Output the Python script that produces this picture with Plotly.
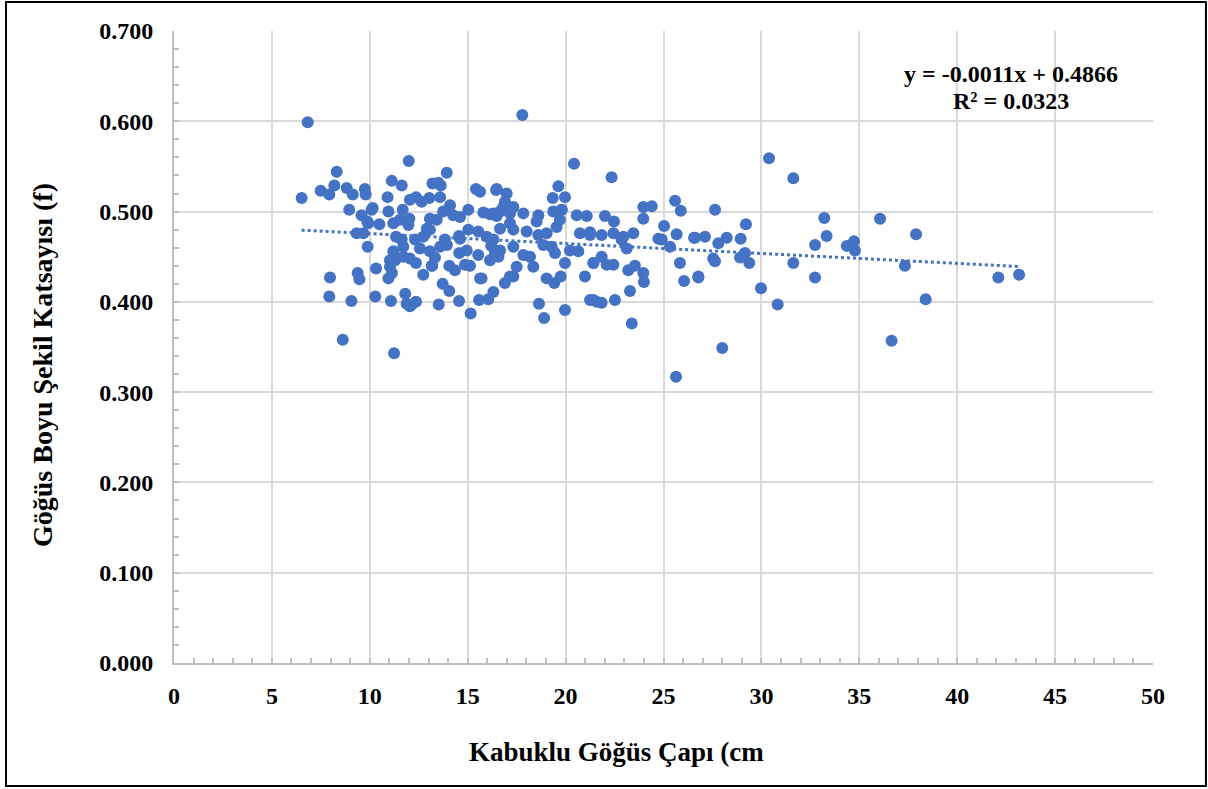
import plotly.graph_objects as go

# Kabuklu Göğüs Çapı (cm)
x_vals = [6.83, 17.79, 6.52, 7.49, 7.93, 8.31, 8.19, 8.82, 9.13, 9.75, 9.79, 8.95, 9.58, 9.33, 9.67,
          9.89, 10.15, 9.92, 10.49, 10.91, 11.12, 11.63, 11.99, 13.93, 7.97, 7.93, 9.06, 9.38, 9.47,
          8.62, 10.28, 11.08, 10.32, 10.95, 11.13, 11.03, 11.24, 11.81, 11.88, 12.36, 12.05, 12.73,
          13.19, 13.52, 13.72, 14.06, 14.56, 15.15, 15.71, 15.58, 16.05, 16.31, 16.90, 17.33, 18.64,
          18.90, 19.97, 19.42, 19.75, 19.03, 20.43, 19.63, 19.34, 19.97, 19.80,
          10.09, 9.87, 10.95, 11.20, 11.20, 11.29,
          13.20, 13.50, 13.62, 12.05, 12.36, 12.65, 13.04, 13.59, 14.10, 15.42, 15.63, 16.45,
          11.68, 11.54, 12.02, 11.97, 13.07, 13.42, 13.75, 14.26, 14.61, 15.03, 15.80, 16.14, 16.48,
          11.34, 11.63, 11.71, 12.31, 12.73, 12.91, 13.07, 12.56, 13.07, 13.59, 13.84, 14.61, 15.03,
          15.54, 15.97, 11.71, 12.05, 12.36, 11.03, 13.16, 14.06, 14.35, 14.86, 15.12, 14.57, 14.95,
          15.54, 16.14, 16.48, 15.63, 12.14, 14.56, 13.94, 13.33,
          16.48, 16.99, 16.90, 17.33, 16.82, 17.84, 16.31, 16.65, 17.16, 18.61, 18.52, 19.37, 19.80,
          20.57, 21.08, 17.16, 17.33, 16.65, 18.01, 18.61, 19.03, 19.54, 19.71, 18.86, 19.29, 19.46,
          20.22, 20.65, 20.73, 21.25, 16.31, 16.39, 16.65, 17.33, 17.84, 18.18, 18.35, 17.50, 17.16,
          19.97, 20.99, 21.42, 21.25, 21.59, 16.57, 16.20,
          22.35, 22.01, 22.47, 23.97, 24.40, 23.97, 25.59, 25.88, 25.03, 25.67, 24.74, 24.91, 25.33,
          26.56, 21.25, 21.84, 22.44, 22.86, 23.12, 23.46, 22.95, 21.84, 21.42, 22.10, 22.44, 23.20,
          23.54, 23.97, 24.00, 25.84, 26.05, 26.78, 23.29, 23.38, 21.42, 21.84, 22.52, 25.64,
          30.39, 31.63, 27.63, 29.21, 26.61, 27.12, 28.23, 28.94, 27.80, 27.54, 27.63, 28.91, 29.16,
          29.38, 26.78, 29.98, 30.83, 28.00, 31.63,
          33.21, 33.33, 32.74, 32.74, 34.36, 34.73, 34.78,
          36.06, 37.90, 37.33, 42.10, 43.16, 38.39, 36.65]

# Göğüs Boyu Şekil Katsayısı (f)
y_vals = [0.599, 0.607, 0.515, 0.523, 0.519, 0.544, 0.529, 0.526, 0.519, 0.525, 0.519, 0.502, 0.496, 0.476, 0.476,
          0.461, 0.504, 0.487, 0.486, 0.516, 0.534, 0.529, 0.556, 0.543, 0.427, 0.406, 0.401, 0.432, 0.425,
          0.358, 0.406, 0.401, 0.437, 0.426, 0.432, 0.439, 0.343, 0.409, 0.398, 0.400, 0.395, 0.430,
          0.440, 0.397, 0.420, 0.412, 0.401, 0.387, 0.426, 0.402, 0.403, 0.411, 0.421, 0.428, 0.398,
          0.382, 0.391, 0.421, 0.428, 0.426, 0.553, 0.528, 0.515, 0.516, 0.502,
          0.502, 0.489, 0.500, 0.487, 0.456, 0.446,
          0.531, 0.532, 0.529, 0.513, 0.516, 0.511, 0.515, 0.516, 0.507, 0.525, 0.522, 0.524,
          0.502, 0.491, 0.492, 0.485, 0.492, 0.491, 0.500, 0.496, 0.494, 0.502, 0.499, 0.497, 0.495,
          0.472, 0.469, 0.461, 0.469, 0.472, 0.481, 0.480, 0.459, 0.456, 0.461, 0.469, 0.470, 0.480,
          0.478, 0.472, 0.450, 0.448, 0.443, 0.446, 0.440, 0.440, 0.435, 0.441, 0.440, 0.454, 0.457,
          0.452, 0.446, 0.452, 0.426, 0.397, 0.473, 0.463, 0.449,
          0.525, 0.520, 0.511, 0.505, 0.505, 0.498, 0.498, 0.500, 0.498, 0.496, 0.489, 0.500, 0.502,
          0.496, 0.495, 0.487, 0.480, 0.481, 0.478, 0.474, 0.476, 0.483, 0.491, 0.463, 0.461, 0.454,
          0.457, 0.456, 0.476, 0.477, 0.469, 0.454, 0.457, 0.461, 0.452, 0.450, 0.439, 0.439, 0.428,
          0.443, 0.428, 0.443, 0.402, 0.400, 0.450, 0.462,
          0.538, 0.495, 0.489, 0.505, 0.506, 0.492, 0.512, 0.501, 0.484, 0.475, 0.470, 0.469, 0.461,
          0.471, 0.474, 0.474, 0.476, 0.469, 0.459, 0.476, 0.472, 0.450, 0.443, 0.441, 0.441, 0.435,
          0.440, 0.432, 0.422, 0.443, 0.423, 0.428, 0.412, 0.376, 0.402, 0.399, 0.402, 0.317,
          0.559, 0.537, 0.502, 0.486, 0.471, 0.472, 0.471, 0.470, 0.465, 0.448, 0.445, 0.449, 0.454,
          0.443, 0.427, 0.415, 0.397, 0.349, 0.443,
          0.493, 0.473, 0.463, 0.427, 0.462, 0.467, 0.457,
          0.492, 0.475, 0.440, 0.427, 0.430, 0.403, 0.357]

slope = -0.0011
intercept = 0.4866
r_squared = 0.0323

x_ticks = [0, 5, 10, 15, 20, 25, 30, 35, 40, 45, 50]
y_ticks = [0.0, 0.1, 0.2, 0.3, 0.4, 0.5, 0.6, 0.7]

BLUE = "#4472C4"
FONT = "Liberation Serif"

trend_x = [min(x_vals), max(x_vals)]
trend_y = [slope * v + intercept for v in trend_x]

fig = go.Figure()
fig.add_trace(go.Scatter(
    x=x_vals, y=y_vals, mode="markers",
    marker=dict(color=BLUE, size=12, line=dict(width=0)),
    hoverinfo="skip", showlegend=False))
fig.add_trace(go.Scatter(
    x=trend_x, y=trend_y, mode="lines",
    line=dict(color=BLUE, width=3, dash="dot"),
    hoverinfo="skip", showlegend=False))

axis_common = dict(
    showgrid=True, gridcolor="#d9d9d9", gridwidth=2,
    showline=True, linecolor="#bfbfbf", linewidth=2,
    ticks="inside", ticklen=5, tickcolor="#bfbfbf", tickwidth=1.5,
    zeroline=False,
    tickfont=dict(family=FONT, size=24, color="#000000", weight="bold"),
)

fig.update_layout(
    width=1208, height=789, autosize=False,
    margin=dict(l=174, r=55, t=31, b=126),
    paper_bgcolor="white", plot_bgcolor="white",
    xaxis=dict(range=[0, 50], tickvals=x_ticks, ticktext=[str(v) for v in x_ticks],
               minor=dict(dtick=1, ticks="inside", ticklen=5, tickcolor="#bfbfbf", tickwidth=1.5, showgrid=False),
               ticklabelstandoff=10, **axis_common),
    yaxis=dict(range=[0, 0.7], tickvals=y_ticks, ticktext=[f"{v:.3f}" for v in y_ticks],
               minor=dict(dtick=0.02, ticks="inside", ticklen=5, tickcolor="#bfbfbf", tickwidth=1.5, showgrid=False),
               ticklabelstandoff=14, **axis_common),
    annotations=[
        dict(text="<b>Kabuklu Göğüs Çapı (cm</b>", xref="paper", yref="paper",
             x=0.4515, y=-0.1408, xanchor="center", yanchor="middle", showarrow=False,
             font=dict(family=FONT, size=27, color="#000000")),
        dict(text="<b>Göğüs Boyu Şekil Katsayısı (f)</b>", xref="paper", yref="paper",
             x=-0.1348, y=0.4715, xanchor="center", yanchor="middle", showarrow=False, textangle=-90,
             font=dict(family=FONT, size=28, color="#000000")),
        dict(text=f"<b>y = {slope:.4f}x + {intercept:.4f}</b>",
             xref="paper", yref="paper", x=0.855, y=0.932, xanchor="center", yanchor="middle",
             showarrow=False, font=dict(family=FONT, size=24, color="#000000")),
        dict(text=f"<b>R² = {r_squared:.4f}</b>",
             xref="paper", yref="paper", x=0.855, y=0.889, xanchor="center", yanchor="middle",
             showarrow=False, font=dict(family=FONT, size=24, color="#000000")),
    ],
    shapes=[
        dict(type="rect", xref="paper", yref="paper",
             x0=-0.1716, x1=1.0541, y0=-0.1946, y1=1.0459,
             line=dict(color="#000000", width=2), fillcolor="rgba(0,0,0,0)", layer="above"),
    ],
)

fig.write_html("out.html")
